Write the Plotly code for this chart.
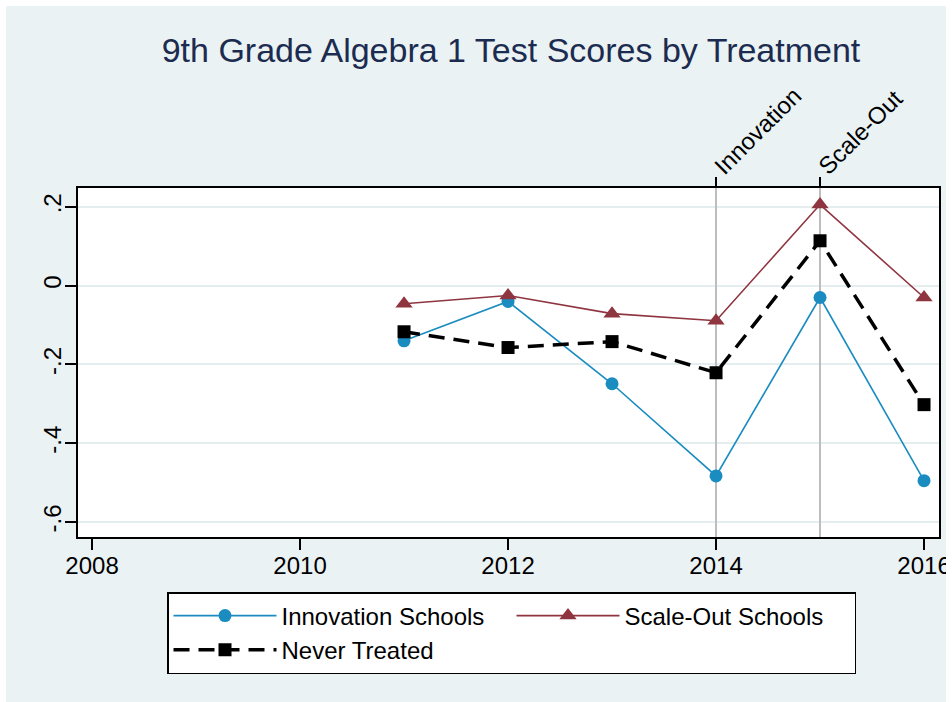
import plotly.graph_objects as go

years = [2011, 2012, 2013, 2014, 2015, 2016]
innovation = [-0.140, -0.040, -0.249, -0.483, -0.030, -0.495]
scale_out = [-0.046, -0.025, -0.071, -0.089, 0.206, -0.030]
never_treated = [-0.117, -0.157, -0.142, -0.221, 0.114, -0.302]

x_ticks = [2008, 2010, 2012, 2014, 2016]
y_ticks = [-0.6, -0.4, -0.2, 0.0, 0.2]
y_tick_labels = ["-.6", "-.4", "-.2", "0", ".2"]
event_years = [2014, 2015]
event_labels = ["Innovation", "Scale-Out"]

title = "9th Grade Algebra 1 Test Scores by Treatment"
names = ["Innovation Schools", "Scale-Out Schools", "Never Treated"]

BG = "#EAF2F3"
FONT = "Liberation Sans, Arial, sans-serif"

fig = go.Figure()
fig.add_trace(go.Scatter(
    x=years, y=innovation, name=names[0], mode="lines+markers",
    line=dict(color="#1A8CC0", width=1.6),
    marker=dict(symbol="circle", size=13, color="#1A8CC0"),
))
fig.add_trace(go.Scatter(
    x=years, y=scale_out, name=names[1], mode="lines+markers",
    line=dict(color="#8F3540", width=1.6),
    marker=dict(symbol="triangle-up", size=15, color="#8F3540"),
))
fig.add_trace(go.Scatter(
    x=years, y=never_treated, name=names[2], mode="lines+markers",
    line=dict(color="black", width=3.5, dash="16px,9px"),
    marker=dict(symbol="square", size=13, color="black"),
))
# helper trace so the top (event) axis is drawn
fig.add_trace(go.Scatter(
    x=event_years, y=[None, None], xaxis="x2", yaxis="y",
    showlegend=False, hoverinfo="skip", mode="markers",
))

xr = [2007.865, 2016.144]
yr = [-0.638, 0.248]

OFF = 6  # page margin around the figure
W, H = 970, 720  # a little larger than the window; overflow is hidden
L, T = 78 - OFF, 188 - OFF
R = W - (939 - OFF)
B = H - (537 - OFF)
PW = W - L - R
PH = H - T - B

fig.update_layout(
    width=W, height=H,
    margin=dict(l=L, r=R, t=T, b=B, autoexpand=False),
    paper_bgcolor=BG,
    plot_bgcolor="white",
    font=dict(family=FONT, size=24, color="black"),
    title=dict(text=title, x=(511 - 78) / PW, xref="paper", xanchor="center",
               y=1 - (50 - OFF) / H, yref="container", yanchor="middle",
               font=dict(family=FONT, size=34, color="#1C2B50")),
    xaxis=dict(
        range=xr, tickvals=x_ticks, ticks="outside", ticklen=11, tickwidth=1.5,
        tickcolor="black", showline=True, linecolor="black", linewidth=2,
        mirror=True, showgrid=False, zeroline=False, ticklabelstandoff=-5,
        automargin=False,
        tickfont=dict(family=FONT, size=24, color="black"),
    ),
    xaxis2=dict(
        range=xr, overlaying="x", side="top", anchor="y",
        tickvals=event_years, ticktext=event_labels, tickangle=-45,
        ticks="outside", ticklen=10, tickwidth=1.5, tickcolor="black",
        showline=False, showgrid=True, gridcolor="#BDBDBD", gridwidth=1.6,
        zeroline=False, ticklabelstandoff=-12, automargin=False,
        tickfont=dict(family=FONT, size=24, color="black"),
    ),
    yaxis=dict(
        range=yr, tickvals=y_ticks, ticktext=y_tick_labels, tickangle=-90,
        ticks="outside", ticklen=11, tickwidth=1.5, tickcolor="black",
        showline=True, linecolor="black", linewidth=2, mirror=True,
        showgrid=True, gridcolor="#E5EEEF", gridwidth=1.6, zeroline=False,
        ticklabelstandoff=-6, automargin=False,
        tickfont=dict(family=FONT, size=24, color="black"),
    ),
    legend=dict(
        orientation="h", x=(167 - 78) / PW, y=(537 - 592) / PH,
        xanchor="left", yanchor="top",
        bgcolor="white", bordercolor="black", borderwidth=1.5,
        entrywidth=225, entrywidthmode="pixels", itemwidth=103,
        font=dict(family=FONT, size=24, color="black"),
        tracegroupgap=0,
    ),
    showlegend=True,
)

fig.write_html(
    "out.html",
    post_script="document.body.style.margin='%dpx';"
                "document.body.style.overflow='hidden';"
                "document.documentElement.style.overflow='hidden';" % OFF,
)
